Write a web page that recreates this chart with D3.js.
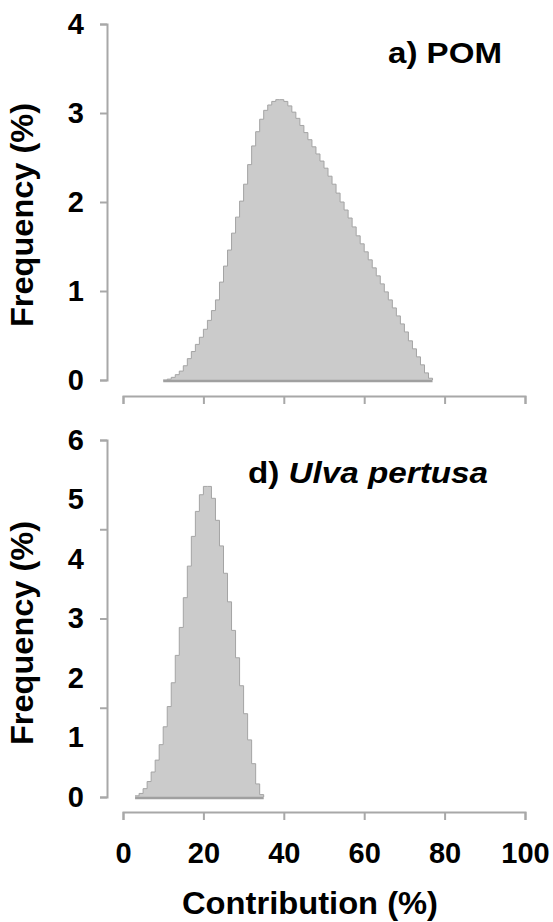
<!DOCTYPE html>
<html>
<head>
<meta charset="utf-8">
<script src="https://cdn.jsdelivr.net/npm/d3@7/dist/d3.min.js"></script>
<style>
  html, body { margin: 0; padding: 0; background: #fff; }
  svg { display: block; }
  text { font-family: "Liberation Sans", Arial, sans-serif; font-weight: bold; fill: #000; }
</style>
</head>
<body>
<svg id="chart" width="553" height="922"></svg>
<script>
// Posterior contribution distributions, 1 % bins (bin start, frequency %)
const pomBins = d3.range(10, 77);
const pomFreq = [
  0.00, 0.01, 0.03, 0.06, 0.10, 0.16, 0.24, 0.32, 0.40, 0.48,
  0.57, 0.67, 0.78, 0.90, 1.10, 1.28, 1.46, 1.65, 1.83, 2.01,
  2.20, 2.42, 2.63, 2.79, 2.93, 3.03, 3.09, 3.13, 3.15, 3.15,
  3.13, 3.08, 3.01, 2.94, 2.86, 2.78, 2.70, 2.62, 2.54, 2.46,
  2.38, 2.29, 2.20, 2.10, 2.00, 1.91, 1.82, 1.72, 1.62, 1.53,
  1.44, 1.35, 1.26, 1.17, 1.08, 0.99, 0.90, 0.81, 0.72, 0.63,
  0.54, 0.44, 0.35, 0.26, 0.17, 0.08, 0.02
];
const ulvaBins = d3.range(3, 35);
const ulvaFreq = [
  0.02, 0.06, 0.14, 0.26, 0.42, 0.62, 0.88, 1.18, 1.52, 1.92,
  2.38, 2.85, 3.35, 3.88, 4.38, 4.80, 5.08, 5.22, 5.22, 5.02,
  4.65, 4.22, 3.76, 3.28, 2.80, 2.34, 1.87, 1.40, 0.96, 0.56,
  0.22, 0.04
];

const xTicks = [0, 20, 40, 60, 80, 100];
const pomYTicks = [0, 1, 2, 3, 4];
const ulvaYLabels = [0, 1, 2, 3, 4, 5, 6];
const ulvaYTicks = [0, 1.5, 3, 4.5, 6];

const svg = d3.select("#chart");
const axisColor = "#a8a8a8";

const x = d3.scaleLinear().domain([0, 100]).range([123, 525]);

function histogram(g, bins, freq, y) {
  const pts = bins.map((b, i) => ({ x: b, v: freq[i] }));
  pts.push({ x: bins[bins.length - 1] + 1, v: 0 });
  const area = d3.area()
    .curve(d3.curveStepAfter)
    .x(d => x(d.x)).y0(y(0)).y1(d => y(d.v));
  const line = d3.line()
    .curve(d3.curveStepAfter)
    .x(d => x(d.x)).y(d => y(d.v));
  g.append("path").attr("d", area(pts)).attr("fill", "#cbcbcb");
  g.append("path").attr("d", line(pts)).attr("fill", "none")
    .attr("stroke", "#a4a4a4").attr("stroke-width", 1);
  g.append("line")
    .attr("x1", x(bins[0])).attr("x2", x(bins[bins.length - 1] + 1))
    .attr("y1", y(0) + 1).attr("y2", y(0) + 1)
    .attr("stroke", "#a0a0a0").attr("stroke-width", 2.5);
}

function styleAxis(g) {
  g.select(".domain").attr("stroke", axisColor).attr("stroke-width", 2);
  g.selectAll(".tick line").attr("stroke", axisColor).attr("stroke-width", 2);
}

function xAxis(yPos, withLabels) {
  const g = svg.append("g").attr("transform", `translate(0,${yPos})`)
    .call(d3.axisBottom(x).tickValues(xTicks).tickSizeOuter(0).tickSize(8)
      .tickFormat(withLabels ? d3.format("d") : ""));
  styleAxis(g);
  g.selectAll(".tick text").attr("font-size", 29).attr("dy", "0.71em")
    .attr("y", 30).attr("fill", "#000");
  return g;
}

function yAxisLine(y, ticks) {
  const g = svg.append("g").attr("transform", "translate(107,0)")
    .call(d3.axisLeft(y).tickValues(ticks).tickSizeOuter(0).tickSize(7).tickFormat(""));
  styleAxis(g);
}

function yAxisLabels(y, labels) {
  const g = svg.append("g").attr("transform", "translate(84,0)")
    .call(d3.axisLeft(y).tickValues(labels).tickSize(0).tickPadding(0).tickFormat(d3.format("d")));
  g.select(".domain").remove();
  g.selectAll(".tick text").attr("font-size", 29).attr("fill", "#000");
}

function yTitle(cy) {
  svg.append("text")
    .attr("transform", `translate(22,${cy}) rotate(-90)`)
    .attr("text-anchor", "middle").attr("dy", "0.35em")
    .attr("font-size", 31)
    .attr("textLength", 224).attr("lengthAdjust", "spacingAndGlyphs")
    .text("Frequency (%)");
}

// Panel a) POM
const yPom = d3.scaleLinear().domain([0, 4]).range([380, 24]);
histogram(svg.append("g"), pomBins, pomFreq, yPom);
yAxisLine(yPom, pomYTicks);
yAxisLabels(yPom, pomYTicks);
xAxis(396, false);
yTitle(215);
svg.append("text").attr("x", 388).attr("y", 63)
  .attr("font-size", 30)
  .attr("textLength", 114).attr("lengthAdjust", "spacingAndGlyphs")
  .text("a) POM");

// Panel d) Ulva pertusa
const yUlva = d3.scaleLinear().domain([0, 6]).range([797, 440]);
histogram(svg.append("g"), ulvaBins, ulvaFreq, yUlva);
yAxisLine(yUlva, ulvaYTicks);
yAxisLabels(yUlva, ulvaYLabels);
xAxis(812, true);
yTitle(633);
const lab = svg.append("text").attr("x", 248).attr("y", 483)
  .attr("font-size", 30)
  .attr("textLength", 240).attr("lengthAdjust", "spacingAndGlyphs");
lab.append("tspan").text("d) ");
lab.append("tspan").attr("font-style", "italic").text("Ulva pertusa");

svg.append("text").attr("x", 182).attr("y", 914)
  .attr("font-size", 31)
  .attr("textLength", 256).attr("lengthAdjust", "spacingAndGlyphs")
  .text("Contribution (%)");
</script>
</body>
</html>
